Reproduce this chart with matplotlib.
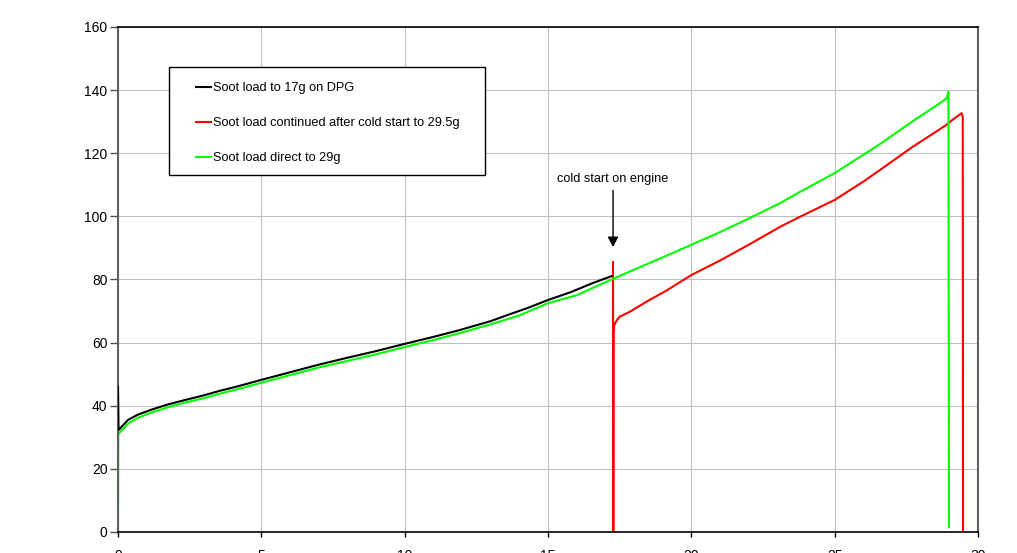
import matplotlib.pyplot as plt
from matplotlib.patches import Rectangle

plt.rcParams['font.family'] = ['Liberation Sans', 'DejaVu Sans']

# soot mass (g) vs pressure reading
x_black = [0, 0.02, 0.35, 0.7, 1.15, 1.7, 2.33, 3.0, 3.5, 4.2, 5.0, 6.0, 7.0, 8.0,
           9.0, 10.0, 11.0, 11.93, 13.0, 13.67, 14.3, 15.0, 15.8, 16.57, 17.23]
y_black = [46, 32.3, 35.5, 37.2, 38.7, 40.3, 41.8, 43.3, 44.6, 46.2, 48.2, 50.6, 53.0, 55.2,
           57.3, 59.6, 61.8, 64.0, 66.8, 69.0, 71.0, 73.5, 76.0, 78.9, 81.1]

x_red = [17.27, 17.28, 17.29, 17.31, 17.4, 17.5, 17.86, 18.5, 19.1, 20.0, 21.0, 22.0,
         23.1, 23.8, 25.0, 26.0, 26.6, 27.7, 28.5, 28.9, 29.1, 29.43, 29.47, 29.48]
y_red = [85.5, 0, 63, 65.5, 67, 68.2, 69.8, 73.3, 76.3, 81.4, 86.0, 91.0,
         96.7, 99.9, 105.2, 111.0, 114.8, 121.9, 126.6, 129.0, 130.5, 132.7, 131.5, 0]

x_green = [0, 0.01, 0.35, 0.7, 1.15, 1.7, 2.33, 3.0, 3.5, 4.2, 5.0, 6.0, 7.0, 8.0, 9.0,
           10.0, 11.0, 12.0, 13.0, 14.0, 15.0, 16.0, 16.8, 17.27, 18.0, 19.0, 20.0, 21.0,
           22.0, 23.1, 23.8, 25.0, 26.0, 26.6, 27.7, 28.5, 28.9, 28.97, 28.99]
y_green = [0, 31.0, 34.3, 36.2, 37.8, 39.4, 41.0, 42.4, 43.7, 45.3, 47.3, 49.7, 52.1, 54.2, 56.3,
           58.6, 60.8, 63.2, 65.8, 68.6, 72.5, 75.0, 78.3, 80.2, 83.1, 87.0, 91.0, 95.0,
           99.3, 104.2, 107.8, 113.7, 119.5, 123.0, 130.0, 134.8, 137.3, 139.5, 1.5]

labels = ['Soot load to 17g on DPG',
          'Soot load continued after cold start to 29.5g',
          'Soot load direct to 29g']

fig = plt.figure(figsize=(10.17, 5.53), dpi=100)
ax = fig.add_axes([0.116, 0.038, 0.8456, 0.9132])

ax.plot(x_black, y_black, color='black', lw=1.5, label=labels[0], zorder=3)
ax.plot(x_red, y_red, color='#FF0000', lw=1.5, label=labels[1], zorder=2)
ax.plot(x_green, y_green, color='#00FF00', lw=1.5, label=labels[2], zorder=2.5)

ax.set_xlim(0, 30)
ax.set_ylim(0, 160)
ax.set_xticks(range(0, 31, 5))
ax.set_yticks(range(0, 161, 20))
ax.grid(True, color='#C0C0C0', lw=0.8)
ax.set_axisbelow(True)

ax.tick_params(axis='y', length=6, width=1, pad=1.5, labelsize=10, color='#505050')
ax.tick_params(axis='x', length=3.5, width=1, pad=8.5, labelsize=10, color='black')

for side in ['left', 'right']:
    ax.spines[side].set_color('#606060')
    ax.spines[side].set_linewidth(1.5)
for side in ['top', 'bottom']:
    ax.spines[side].set_color('black')
    ax.spines[side].set_linewidth(1.2)

# legend frame drawn separately so the entries can sit inside a wider box
ax.add_patch(Rectangle((0.0593, 0.707), 0.3674, 0.2138, transform=ax.transAxes,
                       facecolor='white', edgecolor='black', lw=1.0, zorder=4))
leg = ax.legend(loc='upper left', bbox_to_anchor=(0.0908, 0.891), frameon=False,
                fontsize=9.2, handlelength=1.2, handletextpad=0.1,
                labelspacing=1.8, borderpad=0, borderaxespad=0)
leg.set_zorder(5)

ax.annotate('cold start on engine', xy=(17.27, 90.3), xytext=(17.27, 111.9),
            ha='center', va='center', fontsize=9.2,
            arrowprops=dict(arrowstyle='-|>,head_width=0.32,head_length=0.6',
                            color='black', lw=1.0, shrinkA=2, shrinkB=0,
                            mutation_scale=10))

fig.savefig('out.png', dpi=100)
